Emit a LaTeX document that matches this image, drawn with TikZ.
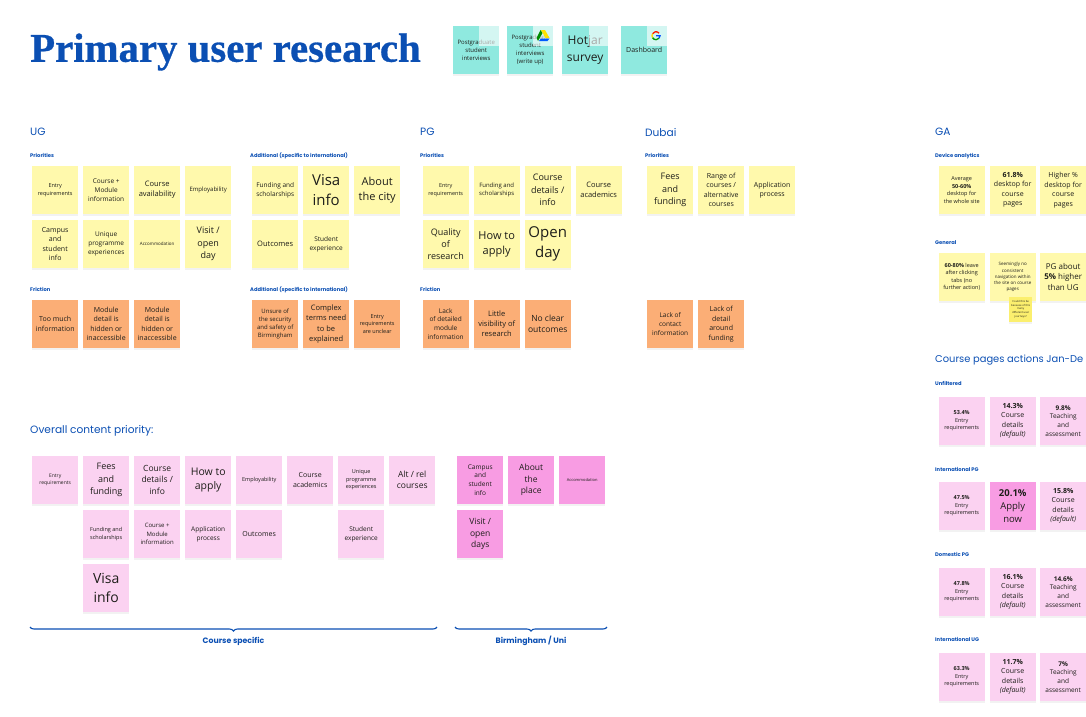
\documentclass[tikz,border=0pt]{standalone}
\usepackage{fontspec}
\setmainfont{Open Sans}
\newfontfamily\headfont{Poppins}
\newfontfamily\titlefont{Liberation Serif}[UprightFont=* Bold,FakeBold=0.7]
\usetikzlibrary{shadows,decorations.pathreplacing}
\definecolor{inkblue}{HTML}{0B4FB3}
\definecolor{noteink}{HTML}{1E1E1A}
\definecolor{noteyellow}{HTML}{FFF9AC}
\definecolor{noteorange}{HTML}{FBAE76}
\definecolor{notepink}{HTML}{FBD2F1}
\definecolor{notemagenta}{HTML}{F89CE3}
\definecolor{noteteal}{HTML}{8FE9DF}
\definecolor{notelemon}{HTML}{FBEF6E}
\newcommand\notefont[1]{\pgfmathsetmacro\notelead{#1*1.36}\fontsize{#1}{\notelead}\selectfont}
\tikzset{
  sticky/.style={anchor=north west,minimum width=46pt,minimum height=47.5pt,inner sep=0pt,
    text width=45pt,align=flush center,text=noteink,
    drop shadow={shadow xshift=0pt,shadow yshift=-2pt,opacity=.05,fill=black}},
  yellownote/.style={sticky,fill=noteyellow},
  orangenote/.style={sticky,fill=noteorange},
  pinknote/.style={sticky,fill=notepink},
  magentanote/.style={sticky,fill=notemagenta},
  tealnote/.style={sticky,fill=noteteal},
  heading/.style={anchor=west,inner sep=0pt,yshift=-1.2pt,text=inkblue,font=\headfont\fontsize{10.6}{13}\selectfont},
  sublabel/.style={anchor=west,inner sep=0pt,yshift=-.8pt,text=inkblue,font=\headfont\bfseries\fontsize{5.2}{7}\selectfont},
  bracelabel/.style={anchor=center,inner sep=0pt,text=inkblue,font=\headfont\bfseries\fontsize{7.8}{9}\selectfont},
  bracket/.style={inkblue,line width=1.1pt,decorate,decoration={brace,mirror,amplitude=4pt}},
  iconpatch/.style={fill=white,fill opacity=.62,draw=none}
}
\begin{document}
\begin{tikzpicture}[x=1pt,y=-1pt]
\useasboundingbox (0,0) rectangle (1086,716);
\node[anchor=west,inner sep=0pt,text=inkblue,font=\titlefont\fontsize{40.8}{46}\selectfont] (title) at (30,52) {Primary user research};

% source notes
\foreach \x/\s/\t [count=\i] in {453/6/{Postgraduate\\student\\interviews},507/6/{Postgraduate\\student\\interviews\\(write up)},562/12/{Hotjar\\survey},621/7/{Dashboard}}
  \node[tealnote,font=\notefont{\s}] (source\i) at (\x,26) {\t};
\foreach \x in {479,533,589,647}
  \fill[iconpatch] (\x,26) rectangle ++(20,20);
% drive and google marks
\fill[green!55!black] (538,41) -- (542.5,33) -- (540.5,30) -- (536.5,38) -- cycle;
\fill[yellow!85!orange] (541,30) -- (545,30) -- (549.5,38) -- (545.5,38) -- cycle;
\fill[blue!65!cyan] (539,41) -- (547.5,41) -- (549.5,38.5) -- (541,38.5) -- cycle;
\coordinate (gmark) at (656,35.7);
\draw[line width=1.3pt,red!80!orange] ([shift={(40:4pt)}]gmark) arc (40:150:4pt);
\draw[line width=1.3pt,yellow!80!orange] ([shift={(150:4pt)}]gmark) arc (150:210:4pt);
\draw[line width=1.3pt,green!60!black] ([shift={(210:4pt)}]gmark) arc (210:320:4pt);
\draw[line width=1.3pt,blue!70!cyan] ([shift={(320:4pt)}]gmark) arc (320:360:4pt) -- (gmark);

% UG
\node[heading] (ughead) at (30,131) {UG};
\node[sublabel] (ugprio) at (30,155) {Priorities};
\node[sublabel] (ugaddone) at (250,155) {Additional (specific to international)};
\node[sublabel] (ugfric) at (30,289) {Friction};
\node[sublabel] (ugaddtwo) at (250,289) {Additional (specific to international)};
\foreach \x/\y/\s/\t [count=\i] in {
  32/166/5.5/{Entry\\requirements},
  83/166/6.5/{Course +\\Module\\information},
  134/166/7.5/{Course\\availability},
  185/166/6/{Employability},
  32/220/7/{Campus\\and\\student\\info},
  83/220/6.5/{Unique\\programme\\experiences},
  134/220/4.5/{Accommodation},
  185/220/9/{Visit /\\open\\day},
  252/166/6.5/{Funding and\\scholarships},
  303/166/15/{Visa\\info},
  354/166/11/{About\\the city},
  252/220/7.5/{Outcomes},
  303/220/6.5/{Student\\experience}}
  \node[yellownote,font=\notefont{\s}] (ug\i) at (\x,\y) {\t};
\foreach \x/\y/\s/\t [count=\i] in {
  32/300/7/{Too much\\information},
  83/300/7/{Module\\detail is\\hidden or\\inaccessible},
  134/300/7/{Module\\detail is\\hidden or\\inaccessible},
  252/300/6/{Unsure of\\the security\\and safety of\\Birmingham},
  303/300/7.5/{Complex\\terms need\\to be\\explained},
  354/300/5.5/{Entry\\requirements\\are unclear}}
  \node[orangenote,font=\notefont{\s}] (ugfr\i) at (\x,\y) {\t};

% PG
\node[heading] (pghead) at (420,131) {PG};
\node[sublabel] (pgprio) at (420,155) {Priorities};
\node[sublabel] (pgfric) at (420,289) {Friction};
\foreach \x/\y/\s/\t [count=\i] in {
  422.5/166/5.5/{Entry\\requirements},
  473.5/166/6/{Funding and\\scholarships},
  524.5/166/9/{Course\\details /\\info},
  575.5/166/7.5/{Course\\academics},
  422.5/220/9/{Quality\\of\\research},
  473.5/220/11/{How to\\apply},
  524.5/220/15/{Open\\day}}
  \node[yellownote,font=\notefont{\s}] (pg\i) at (\x,\y) {\t};
\foreach \x/\s/\t [count=\i] in {
  422.5/6.5/{Lack\\of detailed\\module\\information},
  473.5/7.5/{Little\\visibility of\\research},
  524.5/8.5/{No clear\\outcomes}}
  \node[orangenote,font=\notefont{\s}] (pgfr\i) at (\x,300) {\t};

% Dubai
\node[heading] (dubaihead) at (645,131) {Dubai};
\node[sublabel] (dubaiprio) at (645,155) {Priorities};
\foreach \x/\s/\t [count=\i] in {
  647/9/{Fees\\and\\funding},
  698/7/{Range of\\courses /\\alternative\\courses},
  749/7/{Application\\process}}
  \node[yellownote,font=\notefont{\s}] (dubai\i) at (\x,166) {\t};
\foreach \x/\s/\t [count=\i] in {
  647/6.5/{Lack of\\contact\\information},
  698/7/{Lack of\\detail\\around\\funding}}
  \node[orangenote,font=\notefont{\s}] (dubaifr\i) at (\x,300) {\t};

% GA
\node[heading] (gahead) at (935,131) {GA};
\node[sublabel] (gadevice) at (935,155) {Device analytics};
\node[sublabel] (gageneral) at (935,242) {General};
\foreach \x/\y/\s/\t [count=\i] in {
  938.5/166/5.5/{Average\\\textbf{50-60\%}\\desktop for\\the whole site},
  989.5/166/7/{\textbf{61.8\%}\\desktop for\\course\\pages},
  1040/166/7/{Higher \%\\desktop for\\course\\pages},
  938.5/253/5.5/{\textbf{60-80\%} leave\\after clicking\\tabs (no\\further action)},
  989.5/253/4.5/{Seemingly no\\consistent\\navigation within\\the site on course\\pages},
  1040/253/8/{PG about\\\textbf{5\%} higher\\than UG}}
  \node[yellownote,font=\notefont{\s}] (ga\i) at (\x,\y) {\t};
\node[sticky,fill=notelemon,minimum width=23pt,minimum height=25pt,text width=23pt,font=\notefont{2.7}] (gaquery) at (1009,296.5) {Could this be\\because of this\\many\\different user\\journeys?};

% course page actions
\node[heading,font=\headfont\fontsize{9.9}{13}\selectfont] (actionshead) at (935,359) {Course pages actions Jan-De};
\foreach \y/\t [count=\i] in {383/Unfiltered,468.5/International PG,554/Domestic PG,639/International UG}
  \node[sublabel] (actionlabel\i) at (935,\y) {\t};
\foreach \x/\y/\s/\t [count=\i] in {
  938.5/397/5.5/{\textbf{53.4\%}\\Entry\\requirements},
  989.5/397/7/{\textbf{14.3\%}\\Course\\details\\\textit{(default)}},
  1040/397/6.5/{\textbf{9.8\%}\\Teaching\\and\\assessment},
  938.5/482/5.5/{\textbf{47.5\%}\\Entry\\requirements},
  1040/482/7/{\textbf{15.8\%}\\Course\\details\\\textit{(default)}},
  938.5/568/5.5/{\textbf{47.8\%}\\Entry\\requirements},
  989.5/568/7/{\textbf{16.1\%}\\Course\\details\\\textit{(default)}},
  1040/568/6.5/{\textbf{14.6\%}\\Teaching\\and\\assessment},
  938.5/653/5.5/{\textbf{63.3\%}\\Entry\\requirements},
  989.5/653/7/{\textbf{11.7\%}\\Course\\details\\\textit{(default)}},
  1040/653/6.5/{\textbf{7\%}\\Teaching\\and\\assessment}}
  \node[pinknote,font=\notefont{\s}] (action\i) at (\x,\y) {\t};
\node[magentanote,font=\notefont{9.5}] (actionapply) at (989.5,482) {\textbf{20.1\%}\\Apply\\now};

% overall priority
\node[heading] (overallhead) at (30,430) {Overall content priority:};
\foreach \x/\y/\s/\t [count=\i] in {
  32/456/5/{Entry\\requirements},
  83/456/9/{Fees\\and\\funding},
  134/456/8.5/{Course\\details /\\info},
  185/456/10.5/{How to\\apply},
  236/456/5.5/{Employability},
  287/456/7/{Course\\academics},
  338/456/5.5/{Unique\\programme\\experiences},
  389/456/8.5/{Alt / rel\\courses},
  83/510/5.5/{Funding and\\scholarships},
  134/510/6/{Course +\\Module\\information},
  185/510/6.5/{Application\\process},
  236/510/7/{Outcomes},
  338/510/6.5/{Student\\experience},
  83/564/14/{Visa\\info}}
  \node[pinknote,font=\notefont{\s}] (overall\i) at (\x,\y) {\t};
\foreach \x/\y/\s/\t [count=\i] in {
  457/456/6.5/{Campus\\and\\student\\info},
  508/456/8.5/{About\\the\\place},
  559/456/4/{Accommodation},
  457/510/8.5/{Visit /\\open\\days}}
  \node[magentanote,font=\notefont{\s}] (place\i) at (\x,\y) {\t};

% braces
\coordinate (courseleft) at (30,627);
\coordinate (courseright) at (437,627);
\coordinate (placeleft) at (455,627);
\coordinate (placeright) at (607,627);
\draw[bracket] (courseleft) -- (courseright);
\draw[bracket] (placeleft) -- (placeright);
\node[bracelabel] (coursespecific) at (233.5,641) {Course specific};
\node[bracelabel] (birmingham) at (531,641) {Birmingham / Uni};
\end{tikzpicture}
\end{document}
